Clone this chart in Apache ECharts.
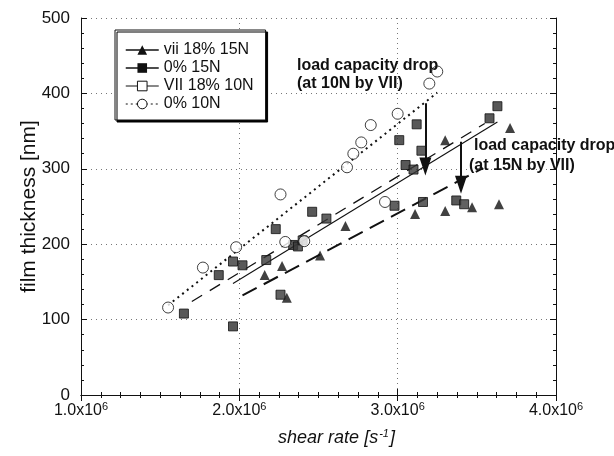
<!DOCTYPE html>
<html><head><meta charset="utf-8">
<script src="https://cdn.jsdelivr.net/npm/echarts@6/dist/echarts.min.js"></script>
<style>html,body{margin:0;padding:0;background:#fff}#c{width:614px;height:456px}</style>
</head><body><div id="c"></div>
<script>
// ---- data ----
const seriesNames = ['vii 18% 15N', '0% 15N', 'VII 18% 10N', '0% 10N'];
const xTickValues = [1e6, 2e6, 3e6, 4e6];
const yTickValues = [0, 100, 200, 300, 400, 500];

// vii 18% 15N (triangles)
const vii15_x = [2.16e6, 2.27e6, 2.30e6, 2.51e6, 2.67e6, 3.11e6, 3.30e6, 3.30e6, 3.47e6, 3.64e6, 3.71e6];
const vii15_y = [159, 171, 129, 185, 224, 240, 244, 338, 249, 253, 354];
// 0% 15N (filled squares)
const base15_x = [1.65e6, 1.87e6, 1.96e6, 2.02e6, 2.23e6, 2.34e6, 2.46e6, 3.01e6, 3.05e6, 3.12e6, 3.37e6, 3.58e6, 3.63e6];
const base15_y = [108, 159, 91, 172, 220, 199, 243, 338, 305, 359, 258, 367, 383];
// VII 18% 10N (squares)
const vii10_x = [1.96e6, 2.17e6, 2.26e6, 2.37e6, 2.40e6, 2.55e6, 2.98e6, 3.10e6, 3.15e6, 3.16e6, 3.42e6];
const vii10_y = [177, 179, 133, 197, 205, 234, 251, 299, 324, 256, 253];
// 0% 10N (open circles)
const base10_x = [1.55e6, 1.77e6, 1.98e6, 2.26e6, 2.29e6, 2.41e6, 2.68e6, 2.72e6, 2.77e6, 2.83e6, 2.92e6, 3.00e6, 3.20e6, 3.25e6];
const base10_y = [116, 169, 196, 266, 203, 204, 302, 320, 335, 358, 256, 373, 413, 429];

// fitted trend lines (end points)
const vii15_fit = [[2.02e6, 132], [3.54e6, 301]];
const base15_fit = [[1.70e6, 124], [3.55e6, 360]];
const vii10_fit = [[1.96e6, 148], [3.63e6, 362]];
const base10_fit = [[1.55e6, 119], [3.25e6, 401]];

// load capacity drop arrows [x, yFrom, yTo]
const arrow10 = [3.175e6, 387, 303];
const arrow15 = [3.40e6, 336, 279];
const annot10 = ['load capacity drop', '(at 10N by VII)'];
const annot15 = ['load capacity drop', '(at 15N by VII)'];

// ---- build ----
const zip = (xs, ys) => xs.map((x, i) => [x, ys[i]]);
const FONT = '"Liberation Sans", Arial, sans-serif';
const INK = '#111';

const chart = echarts.init(document.getElementById('c'), null, {renderer: 'canvas'});

function fitSeries(name, data, symbol, color, lineStyle) {
  return {
    name, type: 'line', data, showSymbol: false, symbol, symbolSize: 10,
    itemStyle: {color, borderColor: INK},
    lineStyle: Object.assign({color: INK}, lineStyle),
    silent: true, z: 2
  };
}
function scatterSeries(name, data, symbol, size, itemStyle) {
  return {name, type: 'scatter', data, symbol, symbolSize: size, itemStyle, z: 3, silent: true};
}

const option = {
  animation: false,
  textStyle: {fontFamily: FONT, color: INK},
  grid: {left: 81, right: 58, top: 18, bottom: 61},
  legend: {
    left: 115, top: 30, orient: 'vertical',
    itemWidth: 33, itemHeight: 12, itemGap: 2,
    padding: [12, 12, 8, 10],
    backgroundColor: '#fff', borderColor: INK, borderWidth: 1,
    shadowColor: '#000', shadowBlur: 0, shadowOffsetX: 2, shadowOffsetY: 2,
    textStyle: {fontSize: 16, color: INK, fontFamily: FONT, lineHeight: 16},
    selectedMode: false,
    data: [
      {name: seriesNames[0], lineStyle: {type: 'solid', width: 1.5, color: INK}, itemStyle: {color: INK}},
      {name: seriesNames[1], lineStyle: {type: 'solid', width: 1.5, color: INK}, itemStyle: {color: INK}},
      {name: seriesNames[2], lineStyle: {type: 'solid', width: 1, color: INK}, itemStyle: {color: '#fff', borderColor: INK, borderWidth: 1}},
      {name: seriesNames[3], lineStyle: {type: [2, 3], width: 1, color: INK}, itemStyle: {color: '#fff', borderColor: INK, borderWidth: 1}}
    ]
  },
  xAxis: [{
    type: 'value', min: xTickValues[0], max: xTickValues[xTickValues.length - 1], interval: 1e6,
    name: '{i|shear rate [s}{s|-1}{i|]}', nameLocation: 'middle', nameGap: 33,
    nameTextStyle: {padding: [0, 0, 0, 36], rich: {
      i: {fontSize: 18, fontStyle: 'italic', color: INK, fontFamily: FONT},
      s: {fontSize: 11, fontStyle: 'italic', color: INK, fontFamily: FONT, padding: [0, 1, 8, 1]}
    }},
    axisLine: {lineStyle: {color: INK, width: 1}},
    axisTick: {inside: true, length: 6, lineStyle: {color: INK}},
    minorTick: {show: true, splitNumber: 8, length: 3, lineStyle: {color: INK}},
    splitLine: {show: true, lineStyle: {color: '#777', type: [1, 4], width: 1}},
    axisLabel: {
      margin: 6,
      formatter: v => '{a|' + (v / 1e6).toFixed(1) + 'x10}{b|6}',
      rich: {a: {fontSize: 16, color: INK, fontFamily: FONT}, b: {fontSize: 11, color: INK, fontFamily: FONT, padding: [0, 0, 8, 0]}}
    }
  }, {
    type: 'value', position: 'top', min: xTickValues[0], max: xTickValues[xTickValues.length - 1], interval: 1e6,
    axisLine: {show: true, lineStyle: {color: INK}},
    axisTick: {inside: true, length: 6, lineStyle: {color: INK}},
    minorTick: {show: true, splitNumber: 8, length: 3, lineStyle: {color: INK}},
    splitLine: {show: false}, axisLabel: {show: false}
  }],
  yAxis: [{
    type: 'value', min: 0, max: 500, interval: 100,
    name: 'film thickness [nm]', nameLocation: 'middle', nameGap: 41, nameMoveOverlap: false,
    nameTextStyle: {fontSize: 21, color: INK, fontFamily: FONT},
    axisLine: {show: true, lineStyle: {color: INK, width: 1}},
    axisTick: {show: true, inside: true, length: 6, lineStyle: {color: INK}},
    minorTick: {show: true, splitNumber: 5, length: 3, lineStyle: {color: INK}},
    splitLine: {show: true, lineStyle: {color: '#777', type: [1, 4], width: 1}},
    axisLabel: {fontSize: 17, color: INK, margin: 11, fontFamily: FONT,
      formatter: v => yTickValues.includes(v) ? String(v) : ''}
  }, {
    type: 'value', position: 'right', min: 0, max: 500, interval: 100,
    axisLine: {show: true, lineStyle: {color: INK}},
    axisTick: {show: true, inside: true, length: 6, lineStyle: {color: INK}},
    minorTick: {show: true, splitNumber: 5, length: 3, lineStyle: {color: INK}},
    splitLine: {show: false}, axisLabel: {show: false}
  }],
  graphic: [
    {type: 'text', left: 297, top: 58, z: 10, style: {text: annot10[0], font: 'bold 16px ' + FONT, fill: INK}},
    {type: 'text', left: 297, top: 76, z: 10, style: {text: annot10[1], font: 'bold 16px ' + FONT, fill: INK}},
    {type: 'text', left: 474, top: 138, z: 10, style: {text: annot15[0], font: 'bold 16px ' + FONT, fill: INK}},
    {type: 'text', left: 469, top: 158, z: 10, style: {text: annot15[1], font: 'bold 16px ' + FONT, fill: INK}}
  ],
  series: [
    fitSeries(seriesNames[0], vii15_fit, 'triangle', INK, {type: [16, 8], width: 2}),
    fitSeries(seriesNames[1], base15_fit, 'rect', '#222', {type: [12, 9], width: 1.3}),
    fitSeries(seriesNames[2], vii10_fit, 'rect', '#fff', {type: 'solid', width: 1.1}),
    Object.assign(fitSeries(seriesNames[3], base10_fit, 'circle', '#fff', {type: [2, 4], width: 2}), {
      markLine: {
        silent: true, symbol: ['none', 'triangle'], symbolSize: [12, 18],
        lineStyle: {color: INK, width: 2, type: 'solid'}, label: {show: false},
        data: [
          [{coord: [arrow10[0], arrow10[1]]}, {coord: [arrow10[0], arrow10[2]]}],
          [{coord: [arrow15[0], arrow15[1]]}, {coord: [arrow15[0], arrow15[2]]}]
        ]
      }
    }),
    scatterSeries(seriesNames[0], zip(vii15_x, vii15_y), 'triangle', 10, {color: INK}),
    scatterSeries(seriesNames[1], zip(base15_x, base15_y), 'rect', 9, {color: '#2e2e2e', borderColor: INK, borderWidth: 1}),
    scatterSeries(seriesNames[2], zip(vii10_x, vii10_y), 'rect', 9, {color: '#3a3a3a', borderColor: INK, borderWidth: 1}),
    scatterSeries(seriesNames[3], zip(base10_x, base10_y), 'circle', 11, {color: '#fff', borderColor: INK, borderWidth: 1})
  ]
};
chart.setOption(option);
</script>
</body></html>
